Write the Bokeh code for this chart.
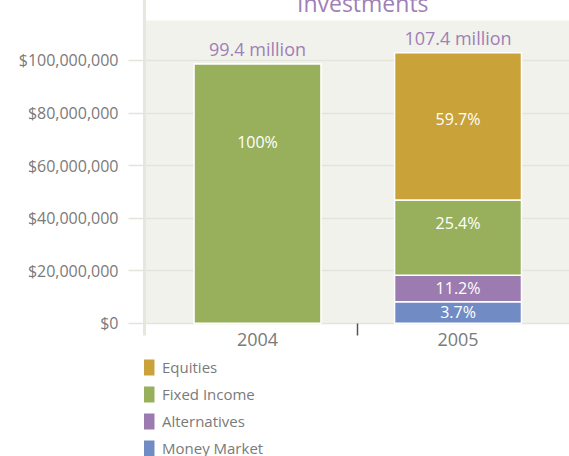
from bokeh.plotting import figure
from bokeh.layouts import column
from bokeh.models import (ColumnDataSource, FixedTicker, NumeralTickFormatter,
                          BoxAnnotation, Label, Legend, LegendItem, Range1d)
from bokeh.core.properties import value
from bokeh.embed import file_html
from bokeh.resources import INLINE

# ---------------- data ----------------
title_text = "Investments"
years = ["2004", "2005"]
money_market = [0.0, 8.2e6]
alternatives = [0.0, 10.1e6]
fixed_income = [98.8e6, 28.6e6]
equities = [0.0, 56.0e6]
pct_money_market = ["", "3.7%"]
pct_alternatives = ["", "11.2%"]
pct_fixed_income = ["100%", "25.4%"]
pct_equities = ["", "59.7%"]
total_labels = ["99.4 million", "107.4 million"]
y_ticks = [0, 20e6, 40e6, 60e6, 80e6, 100e6]

# ---------------- style ----------------
FONT = "Open Sans"
GRAY = "#7a7a7a"
PURPLE = "#a07fb6"
BG = "#f1f2ec"
GRID = "#e3e5db"
C_EQ = "#c9a23a"
C_FI = "#98b05c"
C_ALT = "#9b7bb0"
C_MM = "#718cc4"
COLORS = [C_MM, C_ALT, C_FI, C_EQ]
label_frac = {"mm": 0.54, "alt": 0.53, "fi": 0.70, "eq": 0.55}

x = list(range(len(years)))
src = ColumnDataSource(dict(x=x, mm=money_market, alt=alternatives,
                            fi=fixed_income, eq=equities))
stack = ["mm", "alt", "fi", "eq"]

p = figure(width=569, height=369, output_backend="svg", toolbar_location=None,
           x_range=Range1d(-0.5636, 1.556), y_range=Range1d(-4.68e6, 127.4e6),
           min_border_left=144, min_border_right=0, min_border_top=0,
           min_border_bottom=22)
p.outline_line_color = None
p.background_fill_color = "white"
p.border_fill_color = "white"

p.add_layout(BoxAnnotation(bottom=0, top=115.2e6, fill_color=BG, fill_alpha=1,
                           line_color=None, level="image"))

rs = p.vbar_stack(stack, x="x", width=0.633, source=src, color=COLORS,
                  line_color="white", line_width=1.5)

# percentage labels
cols = {"mm": money_market, "alt": alternatives, "fi": fixed_income, "eq": equities}
pcts = {"mm": pct_money_market, "alt": pct_alternatives, "fi": pct_fixed_income,
        "eq": pct_equities}
lx, ly, lt = [], [], []
bottoms = [0.0] * len(years)
for key in stack:
    for i in range(len(years)):
        v = cols[key][i]
        if v > 0:
            lx.append(x[i])
            ly.append(bottoms[i] + v * label_frac[key])
            lt.append(pcts[key][i])
        bottoms[i] += v
p.text(x=lx, y=ly, text=lt, text_color="white", text_font=value(FONT),
       text_font_size="16px", text_align="center", text_baseline="middle")

# totals
p.text(x=x, y=bottoms, text=total_labels, text_color=PURPLE,
       text_font=value(FONT), text_font_size="18px", text_align="center",
       text_baseline="middle", y_offset=-15)

# title (cut at top as in reference)
p.add_layout(Label(x=0.5, y=121.9e6, x_offset=5, text=title_text,
                   text_color=PURPLE, text_font=FONT,
                   text_font_size="23px", text_align="center",
                   text_baseline="middle"))

# axes
yax = p.yaxis[0]
yax.ticker = FixedTicker(ticks=y_ticks, minor_ticks=[])
yax.formatter = NumeralTickFormatter(format="$0,0")
yax.axis_line_color = "#e6e8df"
yax.axis_line_width = 3
yax.major_tick_out = 16
yax.major_tick_in = 0
yax.major_tick_line_color = GRID
yax.major_tick_line_width = 1.5
yax.minor_tick_line_color = None
yax.major_label_standoff = 10
yax.major_label_text_font = FONT
yax.major_label_text_font_size = "16px"
yax.major_label_text_color = GRAY

xax = p.xaxis[0]
xax.ticker = FixedTicker(ticks=x, minor_ticks=[0.5])
xax.major_label_overrides = {i: y for i, y in zip(x, years)}
xax.axis_line_color = None
xax.major_tick_line_color = None
xax.major_tick_out = 0
xax.major_tick_in = 0
xax.minor_tick_in = 12
xax.minor_tick_out = 0
xax.minor_tick_line_color = "#555555"
xax.minor_tick_line_width = 1.5
xax.major_label_standoff = -3
xax.major_label_text_font = FONT
xax.major_label_text_font_size = "18px"
xax.major_label_text_color = GRAY

p.xgrid.grid_line_color = None
p.ygrid.ticker = FixedTicker(ticks=y_ticks)
p.ygrid.grid_line_color = GRID
p.ygrid.grid_line_width = 1.5

# legend strip below the chart
pl = figure(width=569, height=99, output_backend="svg", toolbar_location=None,
            x_axis_type=None, y_axis_type=None, x_range=Range1d(-0.5636, 1.556),
            y_range=Range1d(0, 1), min_border_left=144, min_border_right=0,
            min_border_top=0, min_border_bottom=0)
pl.outline_line_color = None
pl.xgrid.visible = False
pl.ygrid.visible = False
lrs = pl.vbar_stack(stack, x="x", width=0.633, source=src, color=COLORS,
                    line_color=None, visible=False)
legend = Legend(items=[LegendItem(label="Equities", renderers=[lrs[3]]),
                       LegendItem(label="Fixed Income", renderers=[lrs[2]]),
                       LegendItem(label="Alternatives", renderers=[lrs[1]]),
                       LegendItem(label="Money Market", renderers=[lrs[0]])],
                location=(-8, -2), orientation="vertical",
                glyph_width=20, glyph_height=20, label_standoff=6,
                label_height=16, spacing=7, padding=0, margin=0,
                border_line_color=None, background_fill_alpha=0,
                label_text_font=FONT, label_text_font_size="15px",
                label_text_color=GRAY)
pl.add_layout(legend, "center")

lay = column(p, pl, spacing=0)
lay.styles = {"margin-top": "-12px"}

open("out.html", "w").write(file_html(lay, INLINE))
